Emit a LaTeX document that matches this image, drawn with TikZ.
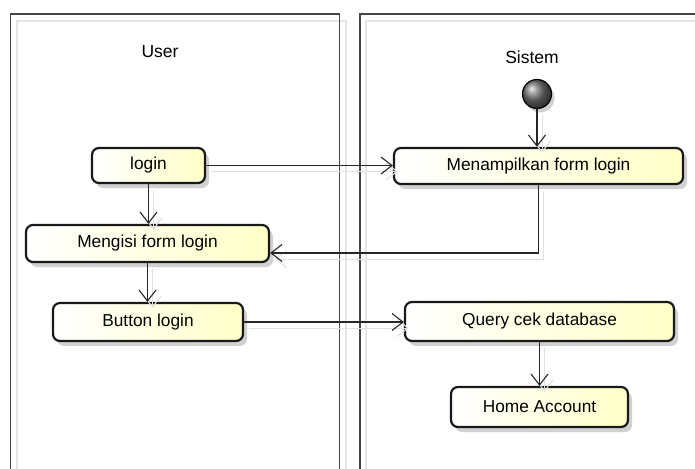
\documentclass[tikz,border=0pt]{standalone}
\usepackage{fontspec}
\setmainfont{Liberation Sans}
\usetikzlibrary{arrows.meta,shadows}
\definecolor{actfill}{RGB}{255,255,200}
\definecolor{laneline}{RGB}{70,70,70}
\definecolor{laneinner}{RGB}{228,228,228}
\tikzset{
  activity/.style={draw=black!90, line width=2.2pt, rounded corners=7pt,
    left color=white, right color=actfill, inner sep=0pt,
    drop shadow={shadow xshift=4pt, shadow yshift=-5pt, fill=black, opacity=0.18},
    font=\fontsize{17.3}{20}\selectfont},
  flow/.style={draw=black!85, line width=1.2pt,
    -{Straight Barb[length=11pt,width=17pt,line width=1.1pt]},
    preaction={draw=black!12, line width=1pt, transform canvas={shift={(5pt,-6pt)}}}},
  lane/.style={draw=laneline, line width=1.6pt},
  laneshade/.style={draw=laneinner, line width=1.2pt},
  lanetitle/.style={font=\fontsize{17.5}{20}\selectfont}
}
\begin{document}
\begin{tikzpicture}[x=1pt,y=-1pt]
\useasboundingbox (0,0) rectangle (695,468);
\fill[white] (0,0) rectangle (695,468);

% swimlanes
\draw[laneshade] (17,480) |- (346,21) -- (346,480);
\draw[laneshade] (366,480) |- (710,21);
\draw[lane] (10.5,480) |- (339.5,14) -- (339.5,480);
\draw[lane] (360,480) |- (710,14);
\node[lanetitle] (user) at (160,52) {User};
\node[lanetitle] (sistem) at (532,57) {Sistem};

% initial node
\node[circle, draw=black, line width=1.2pt, minimum size=29pt, inner sep=0pt,
      shading=ball, ball color=black!55,
      drop shadow={shadow xshift=3pt, shadow yshift=-4pt, fill=black, opacity=0.18}]
      (start) at (537,94) {};

% activities
\node[activity, minimum width=113pt, minimum height=35pt] (login) at (148.5,165.5) {login};
\node[activity, minimum width=243pt, minimum height=37pt] (mengisi) at (147.5,243.5) {Mengisi form login};
\node[activity, minimum width=190pt, minimum height=38pt] (button) at (148,322) {Button login};
\node[activity, minimum width=289pt, minimum height=36pt] (tampil) at (538.5,166) {Menampilkan form login};
\node[activity, minimum width=269pt, minimum height=39pt] (query) at (539.5,321.5) {Query cek database};
\node[activity, minimum width=177pt, minimum height=40pt] (home) at (539.5,407) {Home Account};

% control flow
\draw[flow] (start.south) -- (start.south |- tampil.north);
\draw[flow] (login.east) -- (login.east -| tampil.west);
\draw[flow] (login.south) -- (login.south |- mengisi.north);
\draw[flow] (tampil.south) |- ([yshift=-9.5pt]mengisi.east);
\draw[flow] (mengisi.south) -- (mengisi.south |- button.north);
\draw[flow] (button.east) -- (button.east -| query.west);
\draw[flow] (query.south) -- (query.south |- home.north);
\end{tikzpicture}
\end{document}
